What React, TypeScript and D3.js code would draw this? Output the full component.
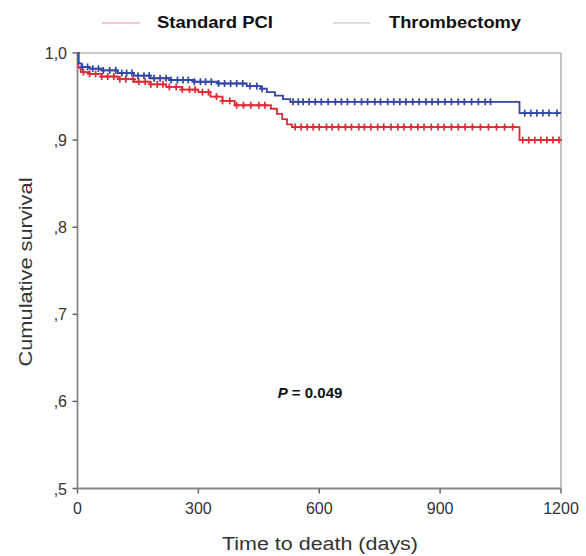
import React from "react";
import * as d3 from "d3";

const blueTimes = [0, 3, 10, 30, 60, 100, 140, 180, 230, 290, 350, 420, 455, 470, 490, 510, 528, 1097];
const blueSurv = [1.0, 0.988, 0.984, 0.982, 0.98, 0.977, 0.974, 0.971, 0.969, 0.967, 0.965, 0.962, 0.959, 0.955, 0.951, 0.947, 0.944, 0.931];
const redTimes = [0, 2, 8, 30, 60, 100, 140, 180, 220, 260, 300, 330, 360, 390, 480, 495, 508, 520, 532, 1097];
const redSurv = [1.0, 0.983, 0.978, 0.976, 0.973, 0.97, 0.967, 0.964, 0.961, 0.958, 0.955, 0.95, 0.945, 0.94, 0.936, 0.93, 0.924, 0.918, 0.915, 0.9];

const blueCensor = [12, 25, 38, 52, 64, 80, 95, 110, 122, 135, 150, 165, 178, 190, 205, 220, 232, 248, 262, 275, 290, 305, 318, 332, 350, 365, 380, 395, 410, 428, 445, 458, 535, 548, 560, 575, 590, 605, 622, 640, 655, 670, 688, 705, 720, 738, 752, 770, 785, 800, 815, 832, 848, 865, 880, 895, 912, 928, 945, 960, 978, 995, 1012, 1025, 1110, 1125, 1140, 1155, 1170, 1190];
const redCensor = [15, 30, 45, 60, 75, 90, 105, 120, 138, 152, 168, 182, 198, 212, 228, 245, 260, 278, 292, 310, 325, 345, 360, 378, 395, 412, 430, 450, 465, 540, 555, 570, 585, 600, 618, 632, 648, 665, 680, 698, 712, 728, 745, 760, 778, 795, 810, 828, 845, 860, 878, 895, 910, 928, 945, 962, 980, 1000, 1020, 1040, 1060, 1080, 1105, 1120, 1135, 1150, 1165, 1180, 1195];

const xTicks = [0, 300, 600, 900, 1200];
const yTicks = [1.0, 0.9, 0.8, 0.7, 0.6, 0.5];
const yTickLabels = ["1,0", ",9", ",8", ",7", ",6", ",5"];
const seriesNames = ["Standard PCI", "Thrombectomy"];

const BLUE = "#3346a6";
const RED = "#e02a34";

function survAt(times: number[], surv: number[], t: number) {
  let v = surv[0];
  for (let i = 0; i < times.length; i++) if (times[i] <= t) v = surv[i];
  return v;
}

export default function App() {
  const x = d3.scaleLinear().domain([0, 1200]).range([77.5, 561]);
  const y = d3.scaleLinear().domain([0.5, 1.0]).range([488.5, 53]);
  const line = d3
    .line<[number, number]>()
    .x((d) => x(d[0]))
    .y((d) => y(d[1]))
    .curve(d3.curveStepAfter);

  const bluePts: [number, number][] = blueTimes.map((t, i) => [t, blueSurv[i]]);
  bluePts.push([1200, blueSurv[blueSurv.length - 1]]);
  const redPts: [number, number][] = redTimes.map((t, i) => [t, redSurv[i]]);
  redPts.push([1200, redSurv[redSurv.length - 1]]);

  const censorMarks = (times: number[], ts: number[], ss: number[], color: string) =>
    times.map((t, i) => {
      const cx = x(t);
      const cy = y(survAt(ts, ss, t));
      return (
        <g key={i} stroke={color} strokeWidth={1.7}>
          <line x1={cx} x2={cx} y1={cy - 3.5} y2={cy + 3.5} />
          <line x1={cx - 3} x2={cx + 3} y1={cy} y2={cy} />
        </g>
      );
    });

  return (
    <svg
      width={586}
      height={556}
      style={{ position: "absolute", left: 0, top: 0, background: "#fff" }}
      fontFamily="Liberation Sans, Arial, sans-serif"
    >
      {/* legend */}
      <line x1={102} x2={140} y1={23} y2={23} stroke="#f2b6c6" strokeWidth={1.5} />
      <text x={157} y={28} fontSize={17} fontWeight="bold" fill="#111" textLength={116} lengthAdjust="spacingAndGlyphs">
        {seriesNames[0]}
      </text>
      <line x1={333} x2={370} y1={23} y2={23} stroke="#cdd3dd" strokeWidth={1.5} />
      <text x={389} y={28} fontSize={17} fontWeight="bold" fill="#111" textLength={132} lengthAdjust="spacingAndGlyphs">
        {seriesNames[1]}
      </text>

      {/* frame */}
      <line x1={x(0)} x2={x(1200)} y1={y(1)} y2={y(1)} stroke="#bbb" strokeWidth={1.5} />
      <line x1={x(1200)} x2={x(1200)} y1={y(1)} y2={y(0.5)} stroke="#bbb" strokeWidth={1.8} />
      <line x1={x(0)} x2={x(0)} y1={y(1)} y2={y(0.5)} stroke="#888" strokeWidth={1.8} />
      <line x1={x(0)} x2={x(1200)} y1={y(0.5)} y2={y(0.5)} stroke="#888" strokeWidth={1.8} />

      {/* y ticks */}
      {yTicks.map((v, i) => (
        <g key={i}>
          <line x1={x(0) - 5} x2={x(0)} y1={y(v)} y2={y(v)} stroke="#666" strokeWidth={1.5} />
          <text x={67} y={y(v) + 6} fontSize={16} textAnchor="end" fill="#333">
            {yTickLabels[i]}
          </text>
        </g>
      ))}
      {/* x ticks */}
      {xTicks.map((t, i) => (
        <g key={i}>
          <line x1={x(t)} x2={x(t)} y1={y(0.5)} y2={y(0.5) + 5} stroke="#666" strokeWidth={1.5} />
          <text x={x(t)} y={514} fontSize={16} textAnchor="middle" fill="#333">
            {t}
          </text>
        </g>
      ))}

      {/* axis titles */}
      <text x={320} y={550} fontSize={18} textAnchor="middle" fill="#333" textLength={196} lengthAdjust="spacingAndGlyphs">
        Time to death (days)
      </text>
      <text
        transform={`translate(32,272) rotate(-90)`}
        fontSize={18}
        textAnchor="middle"
        fill="#333"
        textLength={189}
        lengthAdjust="spacingAndGlyphs"
      >
        Cumulative survival
      </text>

      {/* curves */}
      <path d={line(redPts) || ""} fill="none" stroke={RED} strokeWidth={1.8} />
      <path d={line(bluePts) || ""} fill="none" stroke={BLUE} strokeWidth={1.8} />
      {censorMarks(redCensor, redTimes, redSurv, RED)}
      {censorMarks(blueCensor, blueTimes, blueSurv, BLUE)}

      {/* p value */}
      <text x={310} y={398} fontSize={15} fontWeight="bold" textAnchor="middle" fill="#111">
        <tspan fontStyle="italic">P</tspan> = 0.049
      </text>
    </svg>
  );
}
